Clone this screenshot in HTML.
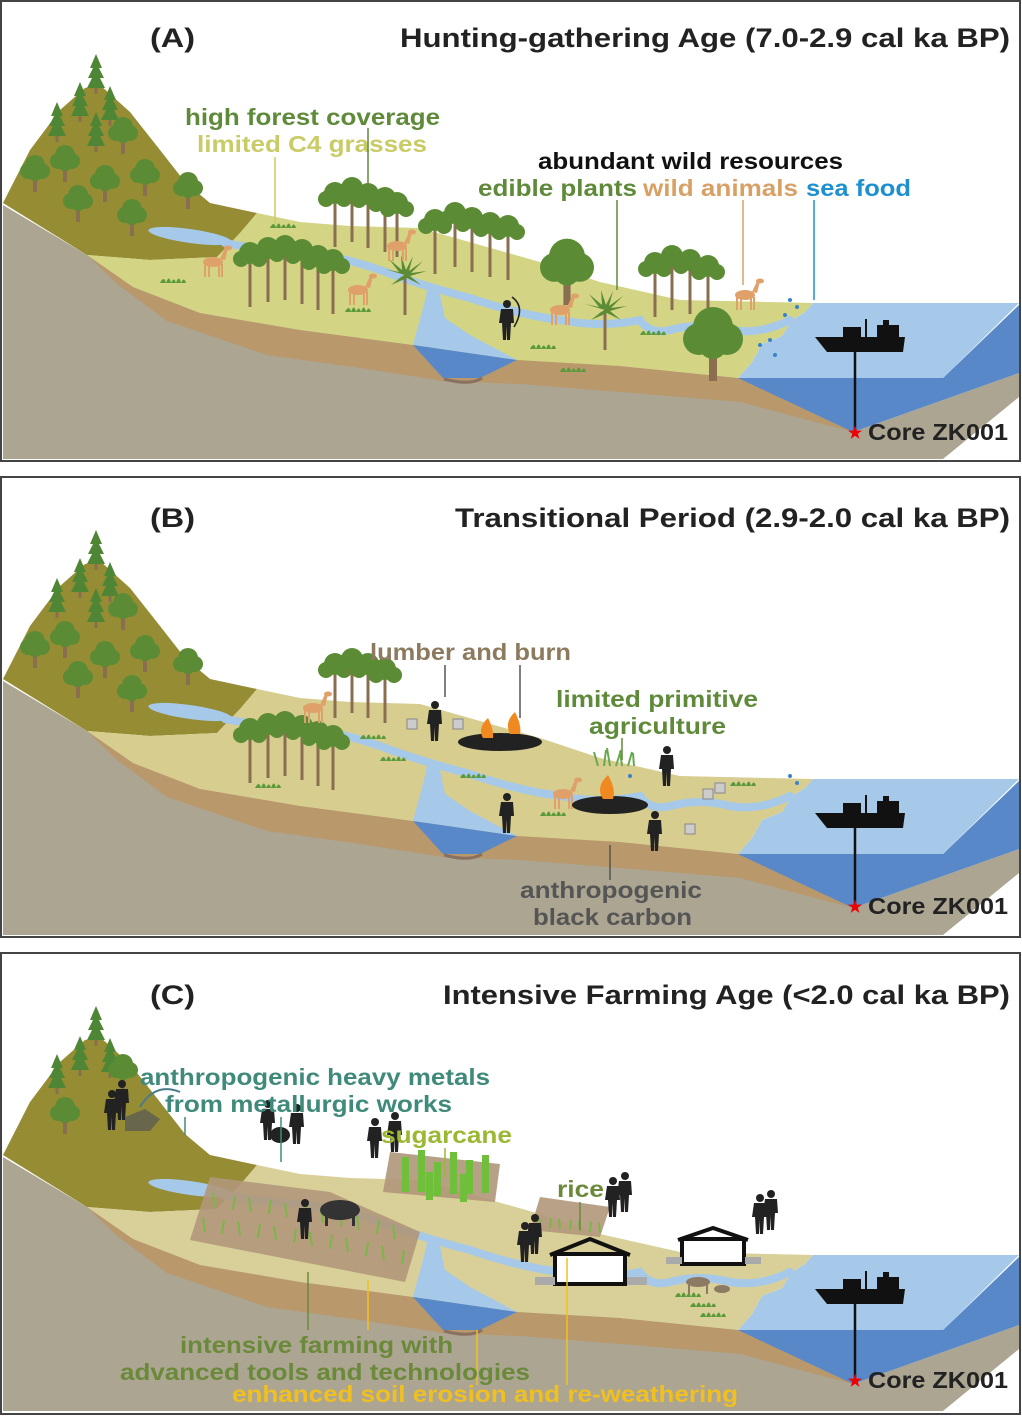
<!DOCTYPE html>
<html><head><meta charset="utf-8"><style>
html,body{margin:0;padding:0;background:#fff}
svg{display:block}
text{font-family:"Liberation Sans",Arial,sans-serif;font-weight:bold}
</style></head><body>
<svg width="1022" height="1416" viewBox="0 0 1022 1416" xmlns="http://www.w3.org/2000/svg">
<defs>
  <g id="bt"><rect x="-2" y="4" width="4" height="20" fill="#8a6e50"/><g fill="#5b8c35"><circle cx="0" cy="-3" r="10"/><circle cx="-7" cy="3" r="8"/><circle cx="7" cy="3" r="8"/><circle cx="0" cy="6" r="7"/></g></g>
  <g id="tt"><rect x="-1.5" y="4" width="3" height="48" fill="#8a6e50"/><g fill="#5b8c35"><circle cx="0" cy="-2" r="11"/><circle cx="-9" cy="4" r="8"/><circle cx="9" cy="4" r="8"/></g></g>
  <g id="ct" fill="#4f8636"><rect x="-1.5" y="14" width="3" height="10" fill="#8a6e50"/><polygon points="0,-16 -6,-2 -3,-2 -8,8 -4,8 -9,18 9,18 4,8 8,8 3,-2 6,-2"/></g>
  <g id="dr" fill="#e0a06a"><ellipse cx="0" cy="0" rx="10" ry="5"/><rect x="-9" y="2" width="2" height="13"/><rect x="-5" y="2" width="2" height="13"/><rect x="5" y="2" width="2" height="13"/><rect x="8" y="2" width="2" height="13"/><polygon points="7,-3 12,-14 15,-14 12,-2"/><ellipse cx="15" cy="-14" rx="4" ry="2.5"/></g>
  <g id="pp" fill="#222"><circle cx="0" cy="-16" r="4"/><path d="M-6,-11 h12 l1,14 h-3 l-1,17 h-3 l0,-14 h-0 l-1,14 h-3 l-1,-17 h-3z"/></g>
  <g id="palm" fill="#5b8c35"><rect x="-1.5" y="0" width="3" height="40" fill="#8a6e50"/><path d="M0,0 L-20,-6 L-6,-3 L-16,-16 L-3,-5 L-4,-20 L1,-5 L8,-19 L4,-4 L18,-14 L6,-2 L22,-4 L5,1 L16,10 L2,3 L-14,10 L-4,2z"/></g>
  <g id="ship" fill="#111"><path d="M0,10 L90,10 L88,25 L12,25 Z"/><rect x="28" y="0" width="18" height="11"/><rect x="50" y="-8" width="2" height="18"/><rect x="62" y="-2" width="22" height="12"/><rect x="68" y="-7" width="6" height="6"/></g>
  <g id="grass" fill="#5a9a3a"><path d="M0,0 q4,-8 6,0 q3,-9 5,0 q3,-7 5,0 q3,-9 5,0 q3,-7 5,0 z"/></g>

  <g id="land">
    <polygon fill="#aca592" points="3,205 87,255 413,345 738,378 853,432 1019,373 1019,397 943,459 3,459"/>
    <polygon fill="#b9986c" points="87,255 133,287 200,313 300,330 413,345 740,378 853,432 740,402 620,392 520,384 443,381 367,369 267,355 167,321 117,284"/>
    <polygon fill="#5888c8" points="738,378 943,378 1019,305 1019,373 853,432"/>
    <polygon fill="#a6c9ea" points="813,303 1019,303 943,378 738,378 752,362 762,344 782,336 792,320 805,312"/>
    <polygon fill="#958c33" points="3,203 30,150 60,110 85,88 100,85 130,112 160,150 185,182 210,203 257,213 240,233 217,257 150,260 87,255"/>
    <path d="M87,255 L150,260 L217,257 L240,233 L257,213 L300,222 L350,226 L420,228 L480,245 L540,262 L600,282 L680,300 L813,303 L805,312 L792,320 L782,336 L762,344 L752,362 L738,378 L620,366 L517,360 L413,345 L300,330 L200,313 L133,287 Z"/>
    <polygon fill="#a6c9ea" points="413,345 425,300 428,285 438,285 445,318 470,335 517,360"/>
    <polygon fill="#5888c8" points="413,345 517,360 480,378 443,378"/>
    <path d="M444,379 Q470,386 482,378" stroke="#8a7060" stroke-width="3" fill="none"/>
    <ellipse cx="190" cy="236" rx="42" ry="7" fill="#a6c9ea" transform="rotate(8 190 236)"/>
    <path d="M225,243 Q260,250 300,252 Q340,256 380,270 Q420,285 470,298 Q520,315 560,320 Q600,328 640,320 Q650,335 670,330 Q700,322 730,330 Q760,335 790,320" stroke="#a6c9ea" stroke-width="8" fill="none" stroke-linecap="round"/>
  </g>
</defs>

<!-- ============ PANEL A ============ -->
<rect x="1" y="1" width="1019" height="460" fill="#fff" stroke="#444" stroke-width="2"/>
<use href="#land" fill="#d3d584"/>
<g>
  <use href="#ct" x="96" y="70"/><use href="#ct" x="80" y="98"/><use href="#ct" x="57" y="118"/><use href="#ct" x="110" y="102"/><use href="#ct" x="96" y="128"/>
  <use href="#bt" x="123" y="130"/><use href="#bt" x="35" y="168"/><use href="#bt" x="65" y="158"/><use href="#bt" x="105" y="178"/><use href="#bt" x="145" y="172"/><use href="#bt" x="78" y="198"/><use href="#bt" x="132" y="212"/><use href="#bt" x="188" y="185"/>
  <use href="#tt" x="335" y="195"/><use href="#tt" x="352" y="190"/><use href="#tt" x="368" y="196"/><use href="#tt" x="385" y="200"/><use href="#tt" x="397" y="205"/>
  <use href="#tt" x="250" y="255"/><use href="#tt" x="268" y="250"/><use href="#tt" x="285" y="248"/><use href="#tt" x="302" y="252"/><use href="#tt" x="318" y="258"/><use href="#tt" x="333" y="262"/>
  <use href="#tt" x="435" y="222"/><use href="#tt" x="455" y="215"/><use href="#tt" x="472" y="220"/><use href="#tt" x="490" y="225"/><use href="#tt" x="508" y="228"/>
  <use href="#bt" x="567" y="262" transform="translate(567 262) scale(1.8) translate(-567 -262)"/>
  <use href="#tt" x="655" y="265"/><use href="#tt" x="672" y="258"/><use href="#tt" x="690" y="262"/><use href="#tt" x="708" y="268"/>
  <use href="#bt" x="713" y="333" transform="translate(713 333) scale(2) translate(-713 -333)"/>
  <use href="#palm" x="405" y="275"/><use href="#palm" x="605" y="310"/>
  <use href="#dr" x="213" y="262"/><use href="#dr" x="358" y="290"/><use href="#dr" x="397" y="246"/><use href="#dr" x="560" y="310"/><use href="#dr" x="745" y="295"/>
  <use href="#pp" x="507" y="320"/><path d="M512,297 q14,10 2,30" stroke="#222" stroke-width="1.5" fill="none"/>
  <use href="#grass" x="270" y="228"/><use href="#grass" x="160" y="283"/><use href="#grass" x="345" y="312"/><use href="#grass" x="530" y="349"/><use href="#grass" x="640" y="335"/><use href="#grass" x="560" y="372"/>
</g>
<g fill="#3b82c8"><circle cx="790" cy="300" r="2"/><circle cx="797" cy="307" r="2"/><circle cx="785" cy="315" r="2"/><circle cx="760" cy="345" r="2"/><circle cx="770" cy="340" r="2"/><circle cx="775" cy="355" r="2"/></g>
<use href="#ship" x="815" y="327"/>
<line x1="855" y1="352" x2="855" y2="430" stroke="#111" stroke-width="2.5"/>
<text x="855" y="438" fill="#e00" font-size="16" text-anchor="middle">★</text>
<text x="868" y="440" font-size="23" fill="#222" textLength="140" lengthAdjust="spacingAndGlyphs">Core ZK001</text>
<text x="150" y="47" font-size="27" fill="#222" textLength="45" lengthAdjust="spacingAndGlyphs">(A)</text>
<text x="400" y="47" font-size="27" fill="#222" textLength="610" lengthAdjust="spacingAndGlyphs">Hunting-gathering Age (7.0-2.9 cal ka BP)</text>
<text x="185" y="125" font-size="23" fill="#5e8a3a" textLength="255" lengthAdjust="spacingAndGlyphs">high forest coverage</text>
<text x="197" y="152" font-size="23" fill="#c9cc66" textLength="230" lengthAdjust="spacingAndGlyphs">limited C4 grasses</text>
<line x1="275" y1="157" x2="275" y2="225" stroke="#c9cc66" stroke-width="1.5"/>
<line x1="368" y1="128" x2="368" y2="190" stroke="#5e8a3a" stroke-width="1.5"/>
<text x="538" y="169" font-size="23" fill="#111" textLength="305" lengthAdjust="spacingAndGlyphs">abundant wild resources</text>
<text x="478" y="196" font-size="23" fill="#5e8a3a" textLength="159" lengthAdjust="spacingAndGlyphs">edible plants</text>
<text x="643" y="196" font-size="23" fill="#d9a066" textLength="155" lengthAdjust="spacingAndGlyphs">wild animals</text>
<text x="806" y="196" font-size="23" fill="#1e90d0" textLength="105" lengthAdjust="spacingAndGlyphs">sea food</text>
<line x1="617" y1="200" x2="617" y2="290" stroke="#5e8a3a" stroke-width="1.5"/>
<line x1="743" y1="200" x2="743" y2="285" stroke="#d9a066" stroke-width="1.5"/>
<line x1="814" y1="200" x2="814" y2="300" stroke="#1e90d0" stroke-width="1.5"/>

<!-- ============ PANEL B ============ -->
<rect x="1" y="477" width="1019" height="460" fill="#fff" stroke="#444" stroke-width="2"/>
<g transform="translate(0,476)">
  <use href="#land" fill="#d7cd8f"/>
  <use href="#ct" x="96" y="70"/><use href="#ct" x="80" y="98"/><use href="#ct" x="57" y="118"/><use href="#ct" x="110" y="102"/><use href="#ct" x="96" y="128"/>
  <use href="#bt" x="123" y="130"/><use href="#bt" x="35" y="168"/><use href="#bt" x="65" y="158"/><use href="#bt" x="105" y="178"/><use href="#bt" x="145" y="172"/><use href="#bt" x="78" y="198"/><use href="#bt" x="132" y="212"/><use href="#bt" x="188" y="185"/>
  <use href="#tt" x="335" y="190"/><use href="#tt" x="352" y="185"/><use href="#tt" x="368" y="190"/><use href="#tt" x="385" y="195"/>
  <use href="#tt" x="250" y="255"/><use href="#tt" x="268" y="250"/><use href="#tt" x="285" y="248"/><use href="#tt" x="302" y="252"/><use href="#tt" x="318" y="258"/><use href="#tt" x="333" y="262"/>
  <use href="#dr" x="313" y="232"/><use href="#dr" x="563" y="318"/>
  <use href="#pp" x="435" y="245"/><use href="#pp" x="507" y="337"/><use href="#pp" x="667" y="290"/><use href="#pp" x="655" y="355"/>
  <g fill="#222"><ellipse cx="500" cy="266" rx="42" ry="9"/><ellipse cx="610" cy="329" rx="38" ry="9"/></g>
  <g fill="#f08a20"><path d="M483,262 q-6,-10 5,-20 q6,12 5,20z"/><path d="M510,258 q-6,-12 5,-22 q7,14 5,22z"/><path d="M603,323 q-8,-12 5,-24 q8,14 5,24z"/></g>
  <g fill="#ccc" stroke="#888" stroke-width="1"><rect x="407" y="243" width="10" height="10"/><rect x="453" y="243" width="10" height="10"/><rect x="703" y="313" width="10" height="10"/><rect x="715" y="307" width="10" height="10"/><rect x="685" y="348" width="10" height="10"/></g>
  <g stroke="#6aa84f" stroke-width="2" fill="none"><path d="M598,290 l-4,-14 M604,290 l2,-16 M610,290 l-3,-18 M616,290 l5,-16 M622,290 l-2,-15 M628,290 l4,-14 M634,290 l-1,-13"/></g>
  <use href="#grass" x="360" y="263"/><use href="#grass" x="255" y="312"/><use href="#grass" x="460" y="302"/><use href="#grass" x="540" y="340"/><use href="#grass" x="730" y="310"/><use href="#grass" x="380" y="285"/>
  <g fill="#3b82c8"><circle cx="790" cy="300" r="2"/><circle cx="797" cy="307" r="2"/><circle cx="630" cy="300" r="2"/></g>
  <use href="#ship" x="815" y="327"/>
  <line x1="855" y1="352" x2="855" y2="428" stroke="#111" stroke-width="2.5"/>
  <text x="855" y="436" fill="#e00" font-size="16" text-anchor="middle">★</text>
  <text x="868" y="438" font-size="23" fill="#222" textLength="140" lengthAdjust="spacingAndGlyphs">Core ZK001</text>
</g>
<text x="150" y="527" font-size="27" fill="#222" textLength="45" lengthAdjust="spacingAndGlyphs">(B)</text>
<text x="455" y="527" font-size="27" fill="#222" textLength="555" lengthAdjust="spacingAndGlyphs">Transitional Period (2.9-2.0 cal ka BP)</text>
<text x="370" y="660" font-size="23" fill="#8c7a5e" textLength="201" lengthAdjust="spacingAndGlyphs">lumber and burn</text>
<line x1="445" y1="665" x2="445" y2="697" stroke="#555" stroke-width="1.5"/>
<line x1="520" y1="665" x2="520" y2="718" stroke="#555" stroke-width="1.5"/>
<text x="556" y="707" font-size="23" fill="#5e8a3a" textLength="202" lengthAdjust="spacingAndGlyphs">limited primitive</text>
<text x="589" y="734" font-size="23" fill="#5e8a3a" textLength="137" lengthAdjust="spacingAndGlyphs">agriculture</text>
<line x1="622" y1="738" x2="622" y2="760" stroke="#5e8a3a" stroke-width="1.5"/>
<text x="520" y="898" font-size="23" fill="#555" textLength="182" lengthAdjust="spacingAndGlyphs">anthropogenic</text>
<text x="533" y="925" font-size="23" fill="#555" textLength="159" lengthAdjust="spacingAndGlyphs">black carbon</text>
<line x1="610" y1="845" x2="610" y2="880" stroke="#555" stroke-width="1.5"/>

<!-- ============ PANEL C ============ -->
<rect x="1" y="953" width="1019" height="461" fill="#fff" stroke="#444" stroke-width="2"/>
<g transform="translate(0,952)">
  <use href="#land" fill="#d9cf98"/>
  <use href="#ct" x="96" y="70"/><use href="#ct" x="80" y="100"/><use href="#ct" x="57" y="118"/><use href="#ct" x="110" y="102"/>
  <use href="#bt" x="123" y="115"/><use href="#bt" x="65" y="158"/>
  <g fill="#b0977a" opacity="0.9"><polygon points="210,225 330,240 420,280 405,330 190,288"/><polygon points="390,200 500,212 495,250 383,240"/><polygon points="540,245 610,255 600,285 530,278"/></g>
  <g stroke="#7cb648" stroke-width="2" fill="none">
    <path d="M205,280 l-2,-14 M222,282 l2,-14 M240,283 l-2,-14 M258,286 l2,-14 M276,288 l-2,-14 M294,291 l2,-14 M312,294 l-2,-14 M330,297 l2,-14 M348,300 l-2,-14 M366,304 l2,-14 M384,308 l-2,-14 M402,312 l2,-14"/>
    <path d="M215,255 l-2,-14 M233,258 l2,-14 M251,260 l-2,-14 M269,262 l2,-14 M287,265 l-2,-14 M305,268 l2,-14 M323,271 l-2,-14 M341,274 l2,-14 M359,278 l-2,-14 M377,282 l2,-14 M395,287 l-2,-14"/>
    <path d="M540,275 l-1,-10 M550,276 l1,-10 M560,277 l-1,-10 M570,278 l1,-10 M580,279 l-1,-10 M590,280 l1,-10 M600,281 l-1,-10"/>
  </g>
  <g fill="#6fbf3a"><rect x="402" y="205" width="7" height="35"/><rect x="418" y="198" width="7" height="42"/><rect x="434" y="210" width="7" height="34"/><rect x="450" y="200" width="7" height="42"/><rect x="466" y="208" width="7" height="34"/><rect x="482" y="203" width="7" height="38"/><rect x="426" y="220" width="7" height="28"/><rect x="460" y="222" width="7" height="28"/></g>
  <use href="#pp" x="375" y="186"/><use href="#pp" x="395" y="180"/><use href="#pp" x="268" y="168"/><use href="#pp" x="297" y="172"/><use href="#pp" x="112" y="158"/><use href="#pp" x="122" y="148"/>
  <use href="#pp" x="613" y="245"/><use href="#pp" x="625" y="240"/><use href="#pp" x="525" y="290"/><use href="#pp" x="535" y="282"/><use href="#pp" x="760" y="262"/><use href="#pp" x="771" y="258"/><use href="#pp" x="305" y="267"/>
  <ellipse cx="280" cy="183" rx="10" ry="8" fill="#222"/>
  <ellipse cx="340" cy="258" rx="20" ry="10" fill="#333"/><rect x="325" y="262" width="3" height="12" fill="#333"/><rect x="352" y="262" width="3" height="12" fill="#333"/>
  <path d="M125,165 l20,-8 l15,10 l-10,12 l-25,0z" fill="#555" opacity="0.7"/>
  <path d="M140,155 q15,-25 40,-15" stroke="#4a7a8a" stroke-width="2" fill="none"/>
  <g stroke="#111" stroke-width="4" fill="#fff"><path d="M555,332 v-30 h70 v30 z"/><polyline points="550,303 590,287 630,303" fill="none"/><path d="M682,312 v-25 h62 v25 z"/><polyline points="678,288 713,276 748,288" fill="none"/></g>
  <rect x="535" y="325" width="20" height="8" fill="#aaa"/><rect x="627" y="325" width="20" height="8" fill="#aaa"/><rect x="666" y="305" width="16" height="7" fill="#aaa"/><rect x="745" y="305" width="16" height="7" fill="#aaa"/>
  <g fill="#8c7a62"><ellipse cx="698" cy="330" rx="12" ry="5"/><rect x="688" y="333" width="2" height="9"/><rect x="706" y="333" width="2" height="9"/><ellipse cx="722" cy="337" rx="8" ry="4"/></g>
  <use href="#grass" x="675" y="345"/><use href="#grass" x="690" y="355"/><use href="#grass" x="700" y="365"/>
  <use href="#ship" x="815" y="327"/>
  <line x1="855" y1="352" x2="855" y2="425" stroke="#111" stroke-width="2.5"/>
  <text x="855" y="434" fill="#e00" font-size="16" text-anchor="middle">★</text>
  <text x="868" y="436" font-size="23" fill="#222" textLength="140" lengthAdjust="spacingAndGlyphs">Core ZK001</text>
</g>
<text x="150" y="1004" font-size="27" fill="#222" textLength="45" lengthAdjust="spacingAndGlyphs">(C)</text>
<text x="443" y="1004" font-size="27" fill="#222" textLength="567" lengthAdjust="spacingAndGlyphs">Intensive Farming Age (&lt;2.0 cal ka BP)</text>
<text x="140" y="1085" font-size="23" fill="#3f8a7a" textLength="350" lengthAdjust="spacingAndGlyphs">anthropogenic heavy metals</text>
<text x="165" y="1112" font-size="23" fill="#3f8a7a" textLength="287" lengthAdjust="spacingAndGlyphs">from metallurgic works</text>
<line x1="185" y1="1117" x2="185" y2="1135" stroke="#3f8a7a" stroke-width="1.5"/>
<line x1="281" y1="1117" x2="281" y2="1162" stroke="#3f8a7a" stroke-width="1.5"/>
<text x="381" y="1143" font-size="23" fill="#9ab832" textLength="131" lengthAdjust="spacingAndGlyphs">sugarcane</text>
<line x1="445" y1="1148" x2="445" y2="1178" stroke="#9ab832" stroke-width="1.5"/>
<text x="557" y="1197" font-size="23" fill="#6a8a3a" textLength="47" lengthAdjust="spacingAndGlyphs">rice</text>
<line x1="580" y1="1202" x2="580" y2="1230" stroke="#6a8a3a" stroke-width="1.5"/>
<line x1="308" y1="1272" x2="308" y2="1330" stroke="#6a8a3a" stroke-width="1.5"/>
<line x1="368" y1="1280" x2="368" y2="1330" stroke="#f0c020" stroke-width="1.5"/>
<line x1="477" y1="1330" x2="477" y2="1385" stroke="#f0c020" stroke-width="1.5"/>
<line x1="567" y1="1258" x2="567" y2="1385" stroke="#f0c020" stroke-width="1.5"/>
<text x="180" y="1353" font-size="23" fill="#6a8a3a" textLength="273" lengthAdjust="spacingAndGlyphs">intensive farming with</text>
<text x="120" y="1380" font-size="23" fill="#6a8a3a" textLength="410" lengthAdjust="spacingAndGlyphs">advanced tools and technologies</text>
<text x="232" y="1402" font-size="23" fill="#f0c020" textLength="506" lengthAdjust="spacingAndGlyphs">enhanced soil erosion and re-weathering</text>
</svg>
</body></html>
